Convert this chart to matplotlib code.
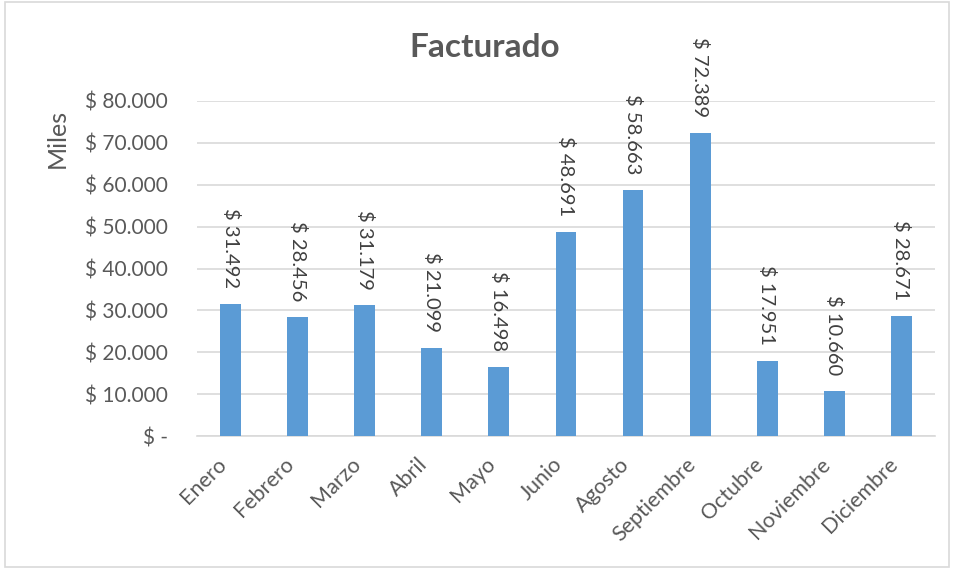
import matplotlib.pyplot as plt
from matplotlib.patches import Rectangle
from matplotlib.ticker import FuncFormatter

plt.rcParams["font.family"] = ["Lato", "DejaVu Sans"]

# Datos (miles de $)
meses = ["Enero", "Febrero", "Marzo", "Abril", "Mayo", "Junio", "Agosto",
         "Septiembre", "Octubre", "Noviembre", "Diciembre"]
facturado = [31492, 28456, 31179, 21099, 16498, 48691, 58663, 72389,
             17951, 10660, 28671]
yticks = [0, 10000, 20000, 30000, 40000, 50000, 60000, 70000, 80000]

TXT = "#595959"
BAR = "#5B9BD5"
GRID = "#D9D9D9"


def pesos(v, pos=None):
    if v == 0:
        return "$ -"
    return "$ " + f"{v:,.0f}".replace(",", ".")


fig = plt.figure(figsize=(9.54, 5.69), dpi=100)
ax = fig.add_axes([0.2065, 0.2337, 0.7735, 0.5888])

x = range(len(meses))
ax.bar(x, facturado, width=0.31, color=BAR, zorder=3)

for xi, v in zip(x, facturado):
    ax.annotate(pesos(v), (xi, v), xytext=(0, 11.5), textcoords="offset points",
                rotation=-90, ha="center", va="bottom", fontsize=14.5,
                color="#404040", clip_on=False, zorder=4)

ax.set_xlim(-0.5, len(meses) - 0.5)
ax.set_ylim(0, 80000)
ax.set_yticks(yticks)
ax.yaxis.set_major_formatter(FuncFormatter(pesos))
ax.set_xticks(list(x))
ax.set_xticklabels(meses, rotation=45, ha="right", va="top")

ax.grid(axis="y", color=GRID, linewidth=1.2, zorder=0)
for s in ["top", "right", "left"]:
    ax.spines[s].set_visible(False)
ax.spines["bottom"].set_color(GRID)
ax.spines["bottom"].set_linewidth(1.2)
ax.tick_params(axis="both", length=0, colors=TXT)
ax.tick_params(axis="y", pad=21, labelsize=15)
ax.tick_params(axis="x", pad=13, labelsize=15.5)

fig.text(0.508, 0.917, "Facturado", ha="center", va="center",
         fontsize=24, fontweight="bold", color=TXT)
fig.text(0.06, 0.757, "Miles", rotation=90, ha="center", va="center",
         fontsize=18, color=TXT)

fig.patches.append(Rectangle((0.005, 0.004), 0.99, 0.992, transform=fig.transFigure,
                             fill=False, edgecolor="#D9D9D9", linewidth=1.2))

fig.savefig("out.png", dpi=100)
